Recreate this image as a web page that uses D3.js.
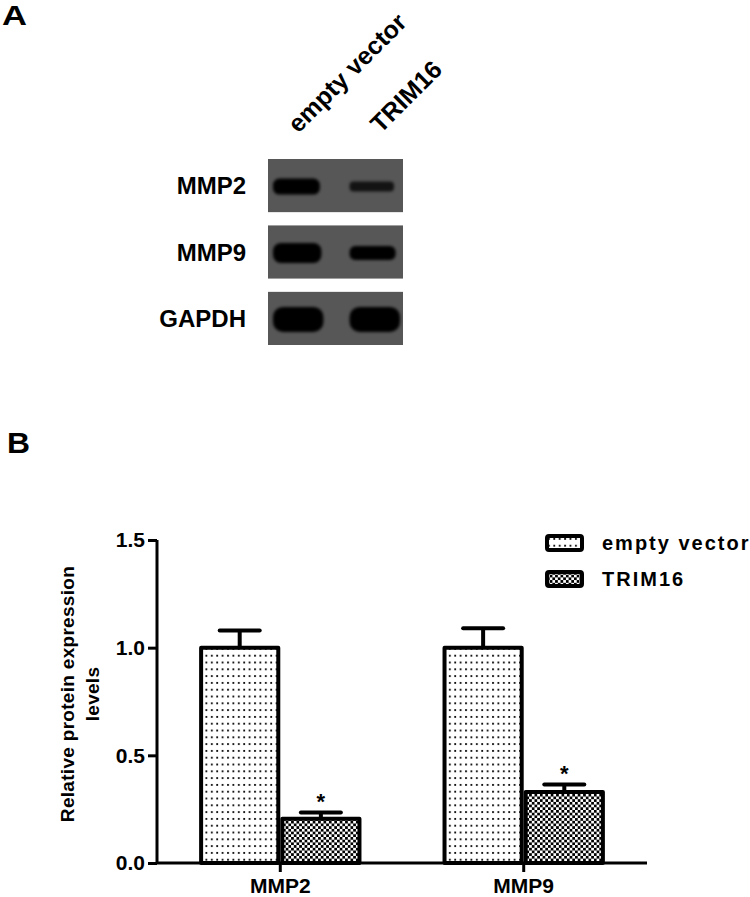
<!DOCTYPE html>
<html>
<head>
<meta charset="utf-8">
<script src="https://cdn.jsdelivr.net/npm/d3@7"></script>
<style>
  body { margin: 0; background: #fff; }
  text { font-family: "Liberation Sans", Arial, sans-serif; font-weight: bold; fill: #000; }
</style>
</head>
<body>
<div id="figure"></div>
<script>
(function () {

  // blot (panel A)
  const blotProteins = ['MMP2', 'MMP9', 'GAPDH'];
  const blotLanes = ['empty vector', 'TRIM16'];
  const bandEmpty = [0.55, 0.75, 1.0];
  const bandTrim = [0.25, 0.45, 1.0];

  // bar chart (panel B)
  const categories = ['MMP2', 'MMP9'];
  const series = ['empty vector', 'TRIM16'];
  const emptyVector = [1.0, 1.0];
  const emptyVectorErr = [0.08, 0.09];
  const trim16 = [0.205, 0.33];
  const trim16Err = [0.03, 0.035];
  const yTicks = [0.0, 0.5, 1.0, 1.5];

  const width = 750;
  const height = 897;

  const svg = d3.select('#figure')
    .append('svg')
    .attr('width', width)
    .attr('height', height);

  const defs = svg.append('defs');

  const dots = defs.append('pattern')
    .attr('id', 'dots')
    .attr('patternUnits', 'userSpaceOnUse')
    .attr('width', 5.4)
    .attr('height', 6.8);
  dots.append('rect').attr('width', 5.4).attr('height', 6.8).attr('fill', '#fff');
  dots.append('rect').attr('x', 1).attr('y', 2).attr('width', 1.8).attr('height', 1.8).attr('fill', '#000');

  const checks = defs.append('pattern')
    .attr('id', 'checks')
    .attr('patternUnits', 'userSpaceOnUse')
    .attr('width', 5.4)
    .attr('height', 5.4);
  checks.append('rect').attr('width', 5.4).attr('height', 5.4).attr('fill', '#fff');
  checks.append('rect').attr('width', 2.7).attr('height', 2.7).attr('fill', '#000');
  checks.append('rect').attr('x', 2.7).attr('y', 2.7).attr('width', 2.7).attr('height', 2.7).attr('fill', '#000');

  defs.append('filter')
    .attr('id', 'blur')
    .attr('x', '-20%').attr('y', '-60%').attr('width', '140%').attr('height', '220%')
    .append('feGaussianBlur')
    .attr('stdDeviation', 1.8);

  const fills = {'empty vector': 'url(#dots)', 'TRIM16': 'url(#checks)'};

  /**
   * Panel A - western blot
   */
  svg.append('text')
    .attr('x', 2)
    .attr('y', 25)
    .attr('textLength', 25)
    .attr('lengthAdjust', 'spacingAndGlyphs')
    .style('font-size', '28px')
    .text('A');

  const stripY = d3.scaleBand()
    .domain(blotProteins)
    .range([159, 345])
    .paddingInner(0.2);

  const laneX = d3.scaleBand()
    .domain(blotLanes)
    .range([268, 403])
    .paddingInner(0.27)
    .paddingOuter(0.04);

  const thickness = d3.scaleLinear().domain([0, 1]).range([5, 25]);
  const darkness = d3.scaleLinear().domain([0.25, 0.45]).range([0.78, 1]).clamp(true);

  blotProteins.forEach(function (protein, i) {
    const g = svg.append('g');
    g.append('rect')
      .attr('x', 268)
      .attr('y', stripY(protein))
      .attr('width', 135)
      .attr('height', stripY.bandwidth())
      .attr('fill', '#575757');

    const bands = [bandEmpty[i], bandTrim[i]];
    g.selectAll('.band')
      .data(bands)
      .enter().append('rect')
      .attr('class', 'band')
      .attr('x', function (d, j) { return laneX(blotLanes[j]) + 2 + (j ? 2 : 0); })
      .attr('width', function (d, j) { return laneX.bandwidth() - 4 - (1 - d) * 8; })
      .attr('y', function (d) { return stripY(protein) + stripY.bandwidth() / 2 - thickness(d) / 2 + 1; })
      .attr('height', function (d) { return thickness(d); })
      .attr('rx', function (d) { return thickness(d) / 2.5; })
      .attr('fill', '#000')
      .attr('opacity', function (d) { return darkness(d); })
      .attr('filter', 'url(#blur)');

    g.append('text')
      .attr('x', 246)
      .attr('y', stripY(protein) + stripY.bandwidth() / 2)
      .attr('dy', '0.36em')
      .attr('text-anchor', 'end')
      .style('font-size', '24px')
      .text(protein);
  });

  svg.selectAll('.lane-label')
    .data(blotLanes)
    .enter().append('text')
    .attr('class', 'lane-label')
    .attr('transform', function (d, i) {
      return 'translate(' + (laneX(d) + laneX.bandwidth() / 2 + i * 8) + ',134) rotate(-45)';
    })
    .style('font-size', '25px')
    .text(function (d) { return d; });

  /**
   * Panel B - bar chart
   */
  svg.append('text')
    .attr('x', 7)
    .attr('y', 453)
    .attr('textLength', 23)
    .attr('lengthAdjust', 'spacingAndGlyphs')
    .style('font-size', '29px')
    .text('B');

  const x0 = d3.scaleBand()
    .domain(categories)
    .range([157, 647])
    .paddingInner(0.333)
    .paddingOuter(0.173);

  const x1 = d3.scaleBand()
    .domain(series)
    .range([0, x0.bandwidth()]);

  const y = d3.scaleLinear()
    .domain([0, 1.5])
    .range([863, 540]);

  const barData = [];
  categories.forEach(function (cat, i) {
    barData.push({cat: cat, key: 'empty vector', value: emptyVector[i], err: emptyVectorErr[i], star: false});
    barData.push({cat: cat, key: 'TRIM16', value: trim16[i], err: trim16Err[i], star: true});
  });

  const bar = svg.selectAll('.bar')
    .data(barData)
    .enter().append('g')
    .attr('class', 'bar')
    .attr('transform', function (d) { return 'translate(' + (x0(d.cat) + x1(d.key)) + ',0)'; });

  const bw = x1.bandwidth();

  bar.append('line')
    .attr('x1', bw / 2).attr('x2', bw / 2)
    .attr('y1', function (d) { return y(d.value); })
    .attr('y2', function (d) { return y(d.value + d.err); })
    .attr('stroke', '#000')
    .attr('stroke-width', 4);

  bar.append('line')
    .attr('x1', bw / 2 - 20).attr('x2', bw / 2 + 20)
    .attr('y1', function (d) { return y(d.value + d.err); })
    .attr('y2', function (d) { return y(d.value + d.err); })
    .attr('stroke', '#000')
    .attr('stroke-width', 4)
    .attr('stroke-linecap', 'round');

  bar.append('rect')
    .attr('x', 2)
    .attr('y', function (d) { return y(d.value); })
    .attr('width', bw - 4)
    .attr('height', function (d) { return y(0) - y(d.value); })
    .attr('fill', function (d) { return fills[d.key]; })
    .attr('stroke', '#000')
    .attr('stroke-width', 4)
    .attr('stroke-linejoin', 'round');

  bar.filter(function (d) { return d.star; })
    .append('text')
    .attr('x', bw / 2)
    .attr('y', function (d) { return y(d.value + d.err) - 3; })
    .attr('text-anchor', 'middle')
    .style('font-size', '22px')
    .text('*');

  // axes
  const yAxis = svg.append('g')
    .attr('transform', 'translate(157,0)')
    .call(d3.axisLeft(y).tickValues(yTicks).tickFormat(d3.format('.1f')).tickSize(9).tickPadding(3));

  const xAxis = svg.append('g')
    .attr('transform', 'translate(0,863)')
    .call(d3.axisBottom(x0).tickSize(9).tickPadding(6));

  [yAxis, xAxis].forEach(function (ax) {
    ax.select('.domain').attr('stroke-width', 3).attr('stroke', '#000');
    ax.selectAll('.tick line').attr('stroke-width', 3).attr('stroke', '#000');
    ax.selectAll('.tick text')
      .style('font-family', '"Liberation Sans", Arial, sans-serif')
      .style('font-weight', 'bold')
      .style('font-size', '21px')
      .attr('fill', '#000');
  });
  xAxis.select('.domain').attr('d', 'M157,0H647');
  yAxis.select('.domain').attr('d', 'M0,540V863');
  xAxis.selectAll('.tick text').attr('dy', '0.71em');

  // y title
  svg.append('text')
    .attr('transform', 'translate(74,694) rotate(-90)')
    .attr('text-anchor', 'middle')
    .style('font-size', '19px')
    .style('letter-spacing', '0.3px')
    .text('Relative protein expression');
  svg.append('text')
    .attr('transform', 'translate(99,694) rotate(-90)')
    .attr('text-anchor', 'middle')
    .style('font-size', '19px')
    .style('letter-spacing', '0.3px')
    .text('levels');

  // legend
  const legend = svg.selectAll('.legend')
    .data(series)
    .enter().append('g')
    .attr('class', 'legend')
    .attr('transform', function (d, i) { return 'translate(547,' + (536 + i * 36) + ')'; });

  legend.append('rect')
    .attr('width', 35)
    .attr('height', 14)
    .attr('rx', 2)
    .attr('fill', function (d) { return fills[d]; })
    .attr('stroke', '#000')
    .attr('stroke-width', 4);

  legend.append('text')
    .attr('x', 55)
    .attr('y', 14)
    .style('font-size', '20px')
    .style('letter-spacing', '2px')
    .text(function (d) { return d; });

})();
</script>
</body>
</html>
